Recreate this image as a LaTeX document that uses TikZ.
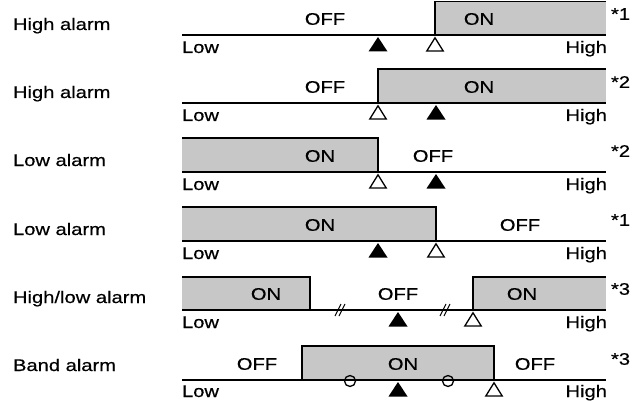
\documentclass[tikz,border=0pt]{standalone}
\usepackage{fontspec}
\setmainfont[FakeStretch=1.2,FakeBold=0.5]{Liberation Sans}
\tikzset{
  every node/.style={inner sep=0pt, outer sep=0pt, font=\fontsize{16.8}{18}\selectfont},
  axisline/.style={line width=1.6pt},
  onbox/.style={fill=black!22},
  boxedge/.style={line width=1.3pt},
  rowlbl/.style={anchor=base west},
  lowlbl/.style={anchor=base west},
  highlbl/.style={anchor=base east},
  noteno/.style={anchor=west},
  pics/setpt/.style={code={\fill (0,2) -- (-9.5,16.5) -- (9.5,16.5) -- cycle;}},
  pics/alarmpt/.style={code={\draw[line width=1.3pt] (0,2.8) -- (-8.2,16) -- (8.2,16) -- cycle;}},
  pics/brk/.style={code={\draw[line width=1.1pt] (-5,6) -- (1,-6) (-1,6) -- (5,-6);}},
  pics/hyst/.style={code={\draw[line width=1.3pt] (0,1) circle[radius=5.5];}}
}
\begin{document}
\begin{tikzpicture}[x=1pt,y=-1pt]
\useasboundingbox (0,0) rectangle (639,401);
% ---------- Row 1: High alarm *1
\fill[onbox] (435,1.5) rectangle (606,35);
\coordinate (r1a) at (182,35); \coordinate (r1b) at (606,35);
\draw[axisline] (r1a) -- (r1b);
\coordinate (r1e) at (435,35); \coordinate (r1t) at (435,1.5); \coordinate (r1r) at (606,1.5);
\draw[boxedge] (r1e) -- (r1t) -- (r1r);
\node[rowlbl] (r1lbl) at (13,30) {High alarm};
\node (r1off) at (325,19) {OFF};
\node (r1on) at (479,19) {ON};
\node[noteno] (r1star) at (611,14) {*1};
\node[lowlbl] (r1low) at (182,53) {Low};
\node[highlbl] (r1high) at (607,53) {High};
\pic at (378,35) {setpt};
\pic at (435,35) {alarmpt};
% ---------- Row 2: High alarm *2
\fill[onbox] (378,69) rectangle (606,103);
\coordinate (r2a) at (182,103); \coordinate (r2b) at (606,103);
\draw[axisline] (r2a) -- (r2b);
\coordinate (r2e) at (378,103); \coordinate (r2t) at (378,69); \coordinate (r2r) at (606,69);
\draw[boxedge] (r2e) -- (r2t) -- (r2r);
\node[rowlbl] (r2lbl) at (13,98) {High alarm};
\node (r2off) at (325,87) {OFF};
\node (r2on) at (479,87) {ON};
\node[noteno] (r2star) at (611,82) {*2};
\node[lowlbl] (r2low) at (182,121) {Low};
\node[highlbl] (r2high) at (607,121) {High};
\pic at (378,103) {alarmpt};
\pic at (436,103) {setpt};
% ---------- Row 3: Low alarm *2
\fill[onbox] (182,138) rectangle (378,172);
\coordinate (r3a) at (182,172); \coordinate (r3b) at (606,172);
\draw[axisline] (r3a) -- (r3b);
\coordinate (r3e) at (378,172); \coordinate (r3t) at (378,138); \coordinate (r3l) at (182,138);
\draw[boxedge] (r3e) -- (r3t) -- (r3l);
\node[rowlbl] (r3lbl) at (13,166) {Low alarm};
\node (r3on) at (320,156) {ON};
\node (r3off) at (433,156) {OFF};
\node[noteno] (r3star) at (611,151) {*2};
\node[lowlbl] (r3low) at (182,190) {Low};
\node[highlbl] (r3high) at (607,190) {High};
\pic at (378,172) {alarmpt};
\pic at (436,172) {setpt};
% ---------- Row 4: Low alarm *1
\fill[onbox] (182,207) rectangle (436,241);
\coordinate (r4a) at (182,241); \coordinate (r4b) at (606,241);
\draw[axisline] (r4a) -- (r4b);
\coordinate (r4e) at (436,241); \coordinate (r4t) at (436,207); \coordinate (r4l) at (182,207);
\draw[boxedge] (r4e) -- (r4t) -- (r4l);
\node[rowlbl] (r4lbl) at (13,235) {Low alarm};
\node (r4on) at (320,225) {ON};
\node (r4off) at (520,225) {OFF};
\node[noteno] (r4star) at (611,220) {*1};
\node[lowlbl] (r4low) at (182,259) {Low};
\node[highlbl] (r4high) at (607,259) {High};
\pic at (378,241) {setpt};
\pic at (436,241) {alarmpt};
% ---------- Row 5: High/low alarm *3
\fill[onbox] (182,277) rectangle (310,310);
\fill[onbox] (473,277) rectangle (606,310);
\coordinate (r5a) at (182,310); \coordinate (r5b) at (606,310);
\draw[axisline] (r5a) -- (r5b);
\coordinate (r5e) at (310,310); \coordinate (r5t) at (310,277); \coordinate (r5l) at (182,277);
\draw[boxedge] (r5e) -- (r5t) -- (r5l);
\coordinate (r5f) at (473,310); \coordinate (r5u) at (473,277); \coordinate (r5r) at (606,277);
\draw[boxedge] (r5f) -- (r5u) -- (r5r);
\node[rowlbl] (r5lbl) at (13,303) {High/low alarm};
\node (r5on) at (266,294) {ON};
\node (r5off) at (398,294) {OFF};
\node (r5on2) at (522,294) {ON};
\node[noteno] (r5star) at (611,289) {*3};
\node[lowlbl] (r5low) at (182,328) {Low};
\node[highlbl] (r5high) at (607,328) {High};
\pic at (340,310) {brk};
\pic at (445,310) {brk};
\pic at (398,310) {setpt};
\pic at (473,310) {alarmpt};
% ---------- Row 6: Band alarm *3
\fill[onbox] (302,346) rectangle (494,380);
\coordinate (r6a) at (182,380); \coordinate (r6b) at (606,380);
\draw[axisline] (r6a) -- (r6b);
\coordinate (r6e) at (302,380); \coordinate (r6t) at (302,346);
\coordinate (r6u) at (494,346); \coordinate (r6f) at (494,380);
\draw[boxedge] (r6e) -- (r6t) -- (r6u) -- (r6f);
\node[rowlbl] (r6lbl) at (13,371) {Band alarm};
\node (r6off) at (257,364) {OFF};
\node (r6on) at (403,364) {ON};
\node (r6off2) at (535,364) {OFF};
\node[noteno] (r6star) at (611,359) {*3};
\node[lowlbl] (r6low) at (182,397) {Low};
\node[highlbl] (r6high) at (607,397) {High};
\pic at (350,380) {hyst};
\pic at (448,380) {hyst};
\pic at (398,380) {setpt};
\pic at (494,380) {alarmpt};
\end{tikzpicture}
\end{document}
